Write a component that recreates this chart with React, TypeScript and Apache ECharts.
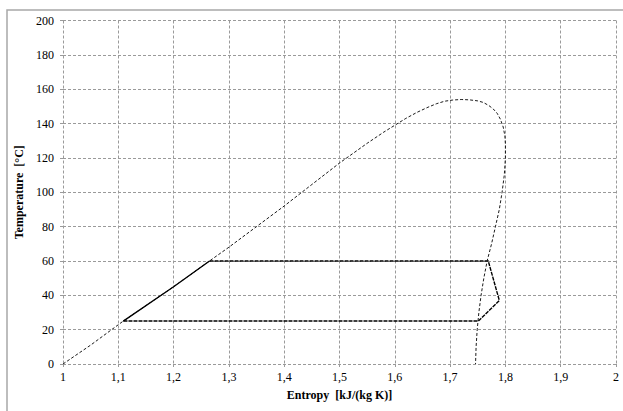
import React, { useEffect, useRef } from "react";
import * as echarts from "echarts";

// Saturation dome (entropy kJ/(kg K), temperature °C)
const domeEntropy = [
  1, 1.05, 1.109, 1.15, 1.2, 1.265, 1.3, 1.35, 1.4, 1.45, 1.5, 1.55, 1.58, 1.6,
  1.62, 1.64, 1.66, 1.675, 1.69, 1.705, 1.72, 1.735, 1.75, 1.76, 1.77, 1.778, 1.785, 1.791, 1.796, 1.799, 1.8,
  1.8, 1.798, 1.794, 1.789, 1.782, 1.775, 1.767, 1.761, 1.756, 1.752, 1.749, 1.747, 1.746,
];
const domeTemp = [
  0, 11, 25, 34, 45, 60, 68, 80, 92, 104.5, 117, 128.5, 135, 139,
  143, 146.5, 149.5, 151.5, 153, 153.7, 154, 153.8, 153.2, 152.3, 150.5, 148.5, 146, 142.5, 138, 133, 128,
  120, 110, 100, 90, 80, 70, 60, 50, 40, 30, 20, 10, 0,
];

// Cycle (dashed part)
const cycleEntropy = [1.265, 1.769, 1.789, 1.751, 1.109];
const cycleTemp = [60, 60, 37, 25, 25];

// Liquid heating segment (solid)
const liquidEntropy = [1.109, 1.2, 1.265];
const liquidTemp = [25, 45, 60];

const xTicks = { min: 1, max: 2, interval: 0.1 };
const yTicks = { min: 0, max: 200, interval: 20 };

const zip = (a: number[], b: number[]) => a.map((v, i) => [v, b[i]]);

export default function App() {
  const ref = useRef<HTMLDivElement>(null);
  useEffect(() => {
    if (!ref.current) return;
    const chart = echarts.init(ref.current, undefined, { renderer: "svg" });
    const font = "Liberation Serif, Times New Roman, serif";
    const gridLine = { show: true, lineStyle: { color: "#9a9a9a", type: [3, 2] as any, width: 1 } };
    const rich = { s: { fontFamily: font, fontSize: 12, color: "#000" } };
    chart.setOption({
      animation: false,
      backgroundColor: "#ffffff",
      textStyle: { fontFamily: font },
      graphic: [
        {
          type: "rect",
          shape: { x: 7, y: 10, width: 700, height: 500 },
          style: { fill: "none", stroke: "#a8a8a8", lineWidth: 1.5 },
          silent: true,
        },
      ],
      grid: { left: 63, right: 7, top: 20.5, bottom: 47 },
      xAxis: {
        type: "value",
        min: xTicks.min,
        max: xTicks.max,
        interval: xTicks.interval,
        name: "Entropy  [kJ/(kg K)]",
        nameLocation: "middle",
        nameGap: 25,
        nameTextStyle: { fontFamily: font, fontWeight: "bold", fontSize: 12, color: "#000" },
        axisLine: { show: false },
        axisTick: { show: true, length: 3, lineStyle: { color: "#9a9a9a" } },
        axisLabel: {
          fontFamily: font,
          fontSize: 12,
          color: "#000",
          margin: 7,
          rich,
          formatter: (v: number) => "{s|" + String(Math.round(v * 10) / 10).replace(".", ",") + "}",
        },
        splitLine: gridLine,
      },
      yAxis: {
        type: "value",
        min: yTicks.min,
        max: yTicks.max,
        interval: yTicks.interval,
        name: "Temperature  [°C]",
        nameLocation: "middle",
        nameGap: 35,
        nameTextStyle: { fontFamily: font, fontWeight: "bold", fontSize: 12, color: "#000" },
        axisLine: { show: false },
        axisTick: { show: true, length: 3, lineStyle: { color: "#9a9a9a" } },
        axisLabel: {
          fontFamily: font,
          fontSize: 12,
          color: "#000",
          margin: 9,
          rich,
          formatter: (v: number) => "{s|" + v + "}",
        },
        splitLine: gridLine,
      },
      series: [
        {
          type: "line",
          data: zip(domeEntropy, domeTemp),
          showSymbol: false,
          lineStyle: { color: "#000", width: 0.9, type: [3, 2] },
        },
        {
          type: "line",
          data: zip(cycleEntropy, cycleTemp),
          showSymbol: false,
          lineStyle: { color: "#000", width: 1.4, type: [4, 1] },
        },
        {
          type: "line",
          data: zip(liquidEntropy, liquidTemp),
          showSymbol: false,
          lineStyle: { color: "#000", width: 1.4 },
        },
      ],
    });
    return () => chart.dispose();
  }, []);
  return (
    <div
      ref={ref}
      style={{ position: "fixed", left: 0, top: 0, width: 623, height: 411, background: "#fff" }}
    />
  );
}
